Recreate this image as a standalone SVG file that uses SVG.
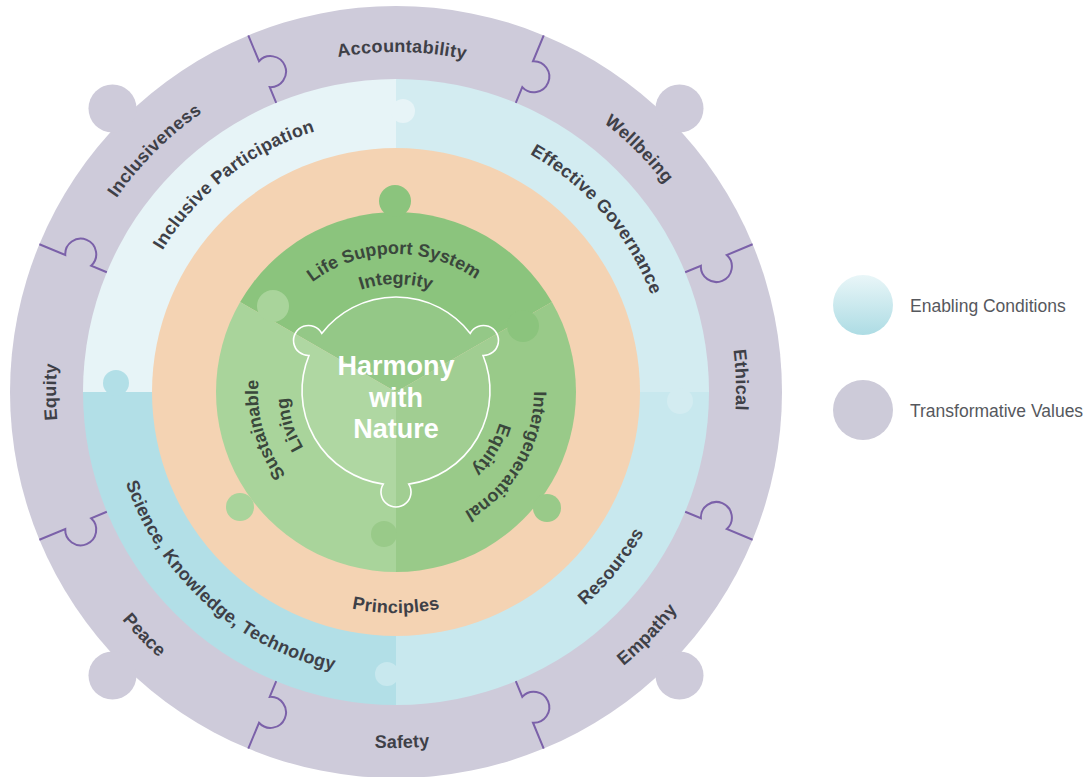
<svg xmlns="http://www.w3.org/2000/svg" width="1089" height="777" viewBox="0 0 1089 777">
<defs>
  <linearGradient id="gEnab" x1="0" y1="0" x2="0" y2="1">
    <stop offset="0" stop-color="#e9f6f8"/>
    <stop offset="1" stop-color="#addce4"/>
  </linearGradient>
  <path id="o_cw" d="M -340,0 A 340 340 0 0 1 340,0"/>
  <path id="o_ccw" d="M -356,0 A 356 356 0 0 0 356,0"/>
  <path id="b_cw" d="M -273,0 A 273 273 0 0 1 273,0"/>
  <path id="b_ccw" d="M -285,0 A 285 285 0 0 0 285,0"/>
  <path id="p_ccw" d="M -221,0 A 221 221 0 0 0 221,0"/>
  <path id="g1" d="M -138,0 A 138 138 0 0 1 138,0"/>
  <path id="g2" d="M -108,0 A 108 108 0 0 1 108,0"/>
  <path id="tab" d="M 386,0 L 358,0 A 15.5 15.5 0 1 1 330,0 L 313,0"/>
</defs>
<style>
  .lbl{font-family:"Liberation Sans",Arial,Helvetica,sans-serif;font-weight:bold;font-size:18px;letter-spacing:0.3px;fill:#3e4047}
  .glbl{font-family:"Liberation Sans",Arial,Helvetica,sans-serif;font-weight:bold;font-size:18px;fill:#3a473c}
  .core{font-family:"Liberation Sans",Arial,Helvetica,sans-serif;font-weight:bold;font-size:27px;fill:#ffffff}
  .leg{font-family:"Liberation Sans",Arial,Helvetica,sans-serif;font-size:17.5px;fill:#56585d}
  .tab{fill:none;stroke:#7b61a9;stroke-width:2}
  .lav{fill:#cecbda}
  .bTL{fill:#e7f4f7}
  .bTR{fill:#d3ecf1}
  .bBL{fill:#b2dfe7}
  .bBR{fill:#c8e8ee}
  .gD{fill:#8bc47d}
  .gM{fill:#99ca89}
  .gL{fill:#a9d49b}
</style>

<g id="transformative-values-ring">
  <circle class="lav" cx="396" cy="392" r="386"/>
  <circle class="lav" cx="679.5" cy="108.5" r="24"/>
  <circle class="lav" cx="112.5" cy="108.5" r="24"/>
  <circle class="lav" cx="112.5" cy="675.5" r="24"/>
  <circle class="lav" cx="679.5" cy="675.5" r="24"/>
</g>

<g id="enabling-conditions-ring">
  <path class="bTL" d="M396,392 L83,392 A313,313 0 0 1 396,79 Z"/>
  <path class="bTR" d="M396,392 L396,79 A313,313 0 0 1 709,392 Z"/>
  <path class="bBR" d="M396,392 L709,392 A313,313 0 0 1 396,705 Z"/>
  <path class="bBL" d="M396,392 L396,705 A313,313 0 0 1 83,392 Z"/>
  <circle class="bTL" cx="403" cy="111" r="12"/>
  <circle class="bBL" cx="116" cy="383" r="13"/>
  <circle class="bTR" cx="680" cy="401" r="13"/>
  <circle class="bBR" cx="387" cy="674" r="12"/>
</g>

<g id="principles-ring">
  <circle cx="396" cy="392" r="244" fill="#f4d3b3"/>
</g>

<g id="core-disc">
  <path class="gD" d="M396,392 L240.12,302 A180,180 0 0 1 551.88,302 Z"/>
  <path class="gM" d="M396,392 L551.88,302 A180,180 0 0 1 396,572 Z"/>
  <path class="gL" d="M396,392 L396,572 A180,180 0 0 1 240.12,302 Z"/>
  <circle class="gD" cx="395" cy="201" r="16"/>
  <circle class="gL" cx="240" cy="507" r="14"/>
  <circle class="gM" cx="547" cy="508" r="14"/>
  <circle class="gL" cx="273" cy="306" r="16"/>
  <circle class="gD" cx="523" cy="326" r="16"/>
  <circle class="gM" cx="384" cy="534" r="13"/>
</g>

<g id="harmony-with-nature">
  <path d="M 321.72,333.39 A 94 94 0 0 1 470.28,333.39 A 15 15 0 1 1 483.03,355.5 A 94 94 0 0 1 408.77,484.13 A 15 15 0 1 1 383.23,484.13 A 94 94 0 0 1 308.97,355.5 A 15 15 0 1 1 321.72,333.39 Z" fill="#ffffff" fill-opacity="0.08" stroke="#ffffff" stroke-width="1.6"/>
  <text class="core" x="396" y="375" text-anchor="middle">Harmony</text>
  <text class="core" x="396" y="406.5" text-anchor="middle">with</text>
  <text class="core" x="396" y="438" text-anchor="middle">Nature</text>
</g>

<g id="connectors">
  <use href="#tab" class="tab" transform="translate(396,392) rotate(-22.5)"/>
  <use href="#tab" class="tab" transform="translate(396,392) rotate(-67.5)"/>
  <use href="#tab" class="tab" transform="translate(396,392) rotate(-112.5)"/>
  <use href="#tab" class="tab" transform="translate(396,392) rotate(-157.5)"/>
  <use href="#tab" class="tab" transform="translate(396,392) rotate(-202.5) scale(1,-1)"/>
  <use href="#tab" class="tab" transform="translate(396,392) rotate(-247.5) scale(1,-1)"/>
  <use href="#tab" class="tab" transform="translate(396,392) rotate(-292.5) scale(1,-1)"/>
  <use href="#tab" class="tab" transform="translate(396,392) rotate(-337.5) scale(1,-1)"/>
</g>

<g id="value-accountability"><text class="lbl" text-anchor="middle" transform="translate(396,392) rotate(1)"><textPath href="#o_cw" startOffset="50%">Accountability</textPath></text></g>
<g id="value-wellbeing"><text class="lbl" text-anchor="middle" transform="translate(396,392) rotate(45)"><textPath href="#o_cw" startOffset="50%">Wellbeing</textPath></text></g>
<g id="value-ethical"><text class="lbl" text-anchor="middle" transform="translate(396,392) rotate(88)"><textPath href="#o_cw" startOffset="50%">Ethical</textPath></text></g>
<g id="value-inclusiveness"><text class="lbl" text-anchor="middle" transform="translate(396,392) rotate(-45)"><textPath href="#o_cw" startOffset="50%">Inclusiveness</textPath></text></g>
<g id="value-equity"><text class="lbl" text-anchor="middle" transform="translate(396,392) rotate(-90)"><textPath href="#o_cw" startOffset="50%">Equity</textPath></text></g>
<g id="value-peace"><text class="lbl" text-anchor="middle" transform="translate(396,392) rotate(46)"><textPath href="#o_ccw" startOffset="50%">Peace</textPath></text></g>
<g id="value-safety"><text class="lbl" text-anchor="middle" transform="translate(396,392) rotate(-1)"><textPath href="#o_ccw" startOffset="50%">Safety</textPath></text></g>
<g id="value-empathy"><text class="lbl" text-anchor="middle" transform="translate(396,392) rotate(-46)"><textPath href="#o_ccw" startOffset="50%">Empathy</textPath></text></g>

<g id="cond-inclusive-participation"><text class="lbl" text-anchor="middle" transform="translate(396,392) rotate(-38)"><textPath href="#b_cw" startOffset="50%">Inclusive Participation</textPath></text></g>
<g id="cond-effective-governance"><text class="lbl" text-anchor="middle" transform="translate(396,392) rotate(49.3)"><textPath href="#b_cw" startOffset="50%">Effective Governance</textPath></text></g>
<g id="cond-resources"><text class="lbl" text-anchor="middle" transform="translate(396,392) rotate(-51)"><textPath href="#b_ccw" startOffset="50%">Resources</textPath></text></g>
<g id="cond-science"><text class="lbl" text-anchor="middle" transform="translate(396,392) rotate(42)"><textPath href="#b_ccw" startOffset="50%">Science, Knowledge, Technology</textPath></text></g>

<g id="principles-label"><text class="lbl" text-anchor="middle" transform="translate(396,392)"><textPath href="#p_ccw" startOffset="50%">Principles</textPath></text></g>

<g id="life-support">
  <text class="glbl" text-anchor="middle" transform="translate(396,392) rotate(-1)"><textPath href="#g1" startOffset="50%">Life Support System</textPath></text>
  <text class="glbl" text-anchor="middle" transform="translate(396,392)"><textPath href="#g2" startOffset="50%">Integrity</textPath></text>
</g>
<g id="intergenerational-equity">
  <text class="glbl" text-anchor="middle" transform="translate(396,392) rotate(120)"><textPath href="#g1" startOffset="50%">Intergenerational</textPath></text>
  <text class="glbl" text-anchor="middle" transform="translate(396,392) rotate(121)"><textPath href="#g2" startOffset="50%">Equity</textPath></text>
</g>
<g id="sustainable-living">
  <text class="glbl" text-anchor="middle" transform="translate(396,392) rotate(-106)"><textPath href="#g1" startOffset="50%">Sustainable</textPath></text>
  <text class="glbl" text-anchor="middle" transform="translate(396,392) rotate(-107)"><textPath href="#g2" startOffset="50%">Living</textPath></text>
</g>

<g id="legend-enabling">
  <circle cx="863" cy="305" r="30" fill="url(#gEnab)"/>
  <text class="leg" x="910" y="312">Enabling Conditions</text>
</g>
<g id="legend-transformative">
  <circle cx="863" cy="410" r="30" fill="#cdcbd9"/>
  <text class="leg" x="910" y="417">Transformative Values</text>
</g>
</svg>
